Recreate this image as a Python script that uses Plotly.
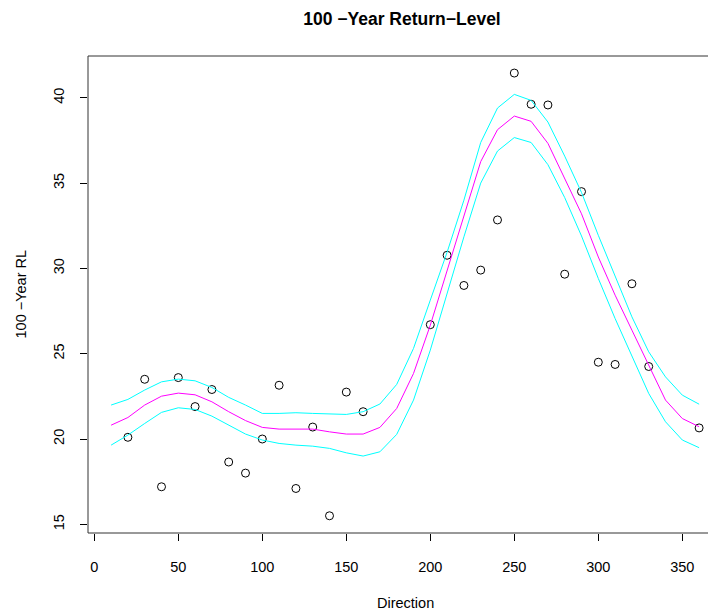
import plotly.graph_objects as go

# Observed points
obs_direction = [20, 30, 40, 50, 60, 70, 80, 90, 100, 110, 120, 130, 140, 150, 160,
                 200, 210, 220, 230, 240, 250, 260, 270, 280, 290, 300, 310, 320, 330, 360]
obs_rl = [20.1, 23.5, 17.2, 23.6, 21.9, 22.9, 18.65, 18.0, 20.0, 23.15, 17.1, 20.7, 15.5, 22.75, 21.6,
          26.7, 30.77, 29.0, 29.9, 32.84, 41.45, 39.62, 39.58, 29.66, 34.5, 24.5, 24.37, 29.1, 24.25, 20.65]

# Fitted curve and confidence band
fit_direction = list(range(10, 361, 10))
fit_rl = [20.81, 21.26, 21.99, 22.51, 22.69, 22.59, 22.18, 21.6, 21.08, 20.68,
          20.58, 20.58, 20.58, 20.42, 20.29, 20.29, 20.68, 21.79, 23.84, 26.67,
          29.8, 33.07, 36.26, 38.13, 38.93, 38.62, 37.33, 35.3, 33.2, 30.67,
          28.43, 26.38, 24.33, 22.28, 21.2, 20.72]
upper_rl = [21.99, 22.32, 22.87, 23.35, 23.51, 23.41, 23.02, 22.44, 21.99, 21.5,
            21.5, 21.54, 21.5, 21.46, 21.44, 21.6, 22.05, 23.2, 25.31, 28.14,
            30.95, 34.0, 37.38, 39.4, 40.2, 39.85, 38.58, 36.58, 34.45, 31.94,
            29.56, 27.16, 25.11, 23.64, 22.57, 22.04]
lower_rl = [19.64, 20.23, 20.91, 21.56, 21.83, 21.73, 21.34, 20.8, 20.29, 19.94,
            19.74, 19.64, 19.58, 19.45, 19.19, 19.0, 19.25, 20.27, 22.28, 25.21,
            28.53, 31.85, 35.0, 36.88, 37.67, 37.38, 36.08, 34.15, 31.9, 29.41,
            27.06, 24.82, 22.67, 21.01, 19.94, 19.49]

x_ticks = [0, 50, 100, 150, 200, 250, 300, 350]
y_ticks = [15, 20, 25, 30, 35, 40]

FONT = "Liberation Sans, Arial, Helvetica, sans-serif"

# The page body adds an 8px offset; the figure is sized to fill the window exactly.
W, H = 708, 604
L, T, B = 80, 48, 79

fig = go.Figure()
fig.add_trace(go.Scatter(x=obs_direction, y=obs_rl, mode="markers",
                         marker=dict(symbol="circle-open", size=8, color="black",
                                     line=dict(width=1, color="black")),
                         showlegend=False, hoverinfo="x+y"))
fig.add_trace(go.Scatter(x=fit_direction, y=fit_rl, mode="lines",
                         line=dict(color="#FF00FF", width=1), showlegend=False))
fig.add_trace(go.Scatter(x=fit_direction, y=upper_rl, mode="lines",
                         line=dict(color="#00FFFF", width=1), showlegend=False))
fig.add_trace(go.Scatter(x=fit_direction, y=lower_rl, mode="lines",
                         line=dict(color="#00FFFF", width=1), showlegend=False))

fig.update_layout(
    width=W, height=H,
    margin=dict(l=L, r=0, t=T, b=B, pad=0),
    paper_bgcolor="white", plot_bgcolor="white",
    font=dict(family=FONT, size=14.5, color="black"),
    title=dict(text="<b>100 −Year Return−Level</b>", x=0.5, xanchor="center",
               xref="paper", y=1 - 11 / H, yref="container", yanchor="middle",
               font=dict(size=17.5, family=FONT, color="black")),
    xaxis=dict(range=[-3.75, 370.05], tickvals=x_ticks, ticktext=[str(v) for v in x_ticks],
               ticks="outside", ticklen=7, tickcolor="black", tickwidth=1,
               showgrid=False, zeroline=False, showline=False,
               ticklabelstandoff=14),
    yaxis=dict(range=[14.49, 42.45], tickvals=y_ticks, ticktext=[str(v) for v in y_ticks],
               ticks="outside", ticklen=7, tickcolor="black", tickwidth=1,
               tickangle=-90, showgrid=False, zeroline=False, showline=False,
               ticklabelstandoff=10),
    shapes=[dict(type="rect", xref="paper", yref="paper", x0=0, x1=1.05, y0=0, y1=1,
                 line=dict(color="#333333", width=1), fillcolor="rgba(0,0,0,0)",
                 layer="above")],
    annotations=[
        dict(text="Direction", xref="paper", yref="paper", x=(405 - 88) / 628,
             y=-(603 - 533) / 477, xanchor="center", yanchor="middle", showarrow=False,
             font=dict(size=14.5, family=FONT)),
        dict(text="100 −Year RL", xref="paper", yref="paper", x=-(88 - 20) / 628,
             y=0.5, xanchor="center", yanchor="middle", textangle=-90, showarrow=False,
             font=dict(size=14.5, family=FONT)),
    ],
)

fig.write_html("out.html")
